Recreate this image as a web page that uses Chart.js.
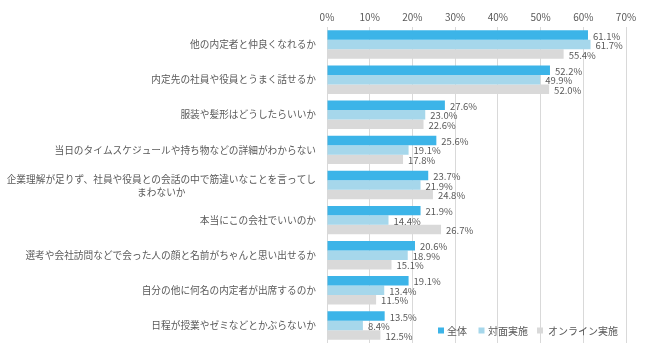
<!DOCTYPE html>
<html><head><meta charset="utf-8">
<script src="https://cdn.jsdelivr.net/npm/chart.js@4/dist/chart.umd.min.js"></script>
<style>html,body{margin:0;padding:0;background:#fff}#wrap{width:650px;height:356px;position:relative}</style>
</head><body><div id="wrap"><canvas id="c"></canvas></div>
<script>
const categories = [
  ["他の内定者と仲良くなれるか"],
  ["内定先の社員や役員とうまく話せるか"],
  ["服装や髪形はどうしたらいいか"],
  ["当日のタイムスケジュールや持ち物などの詳細がわからない"],
  ["企業理解が足りず、社員や役員との会話の中で筋違いなことを言ってし", "まわないか"],
  ["本当にこの会社でいいのか"],
  ["選考や会社訪問などで会った人の顔と名前がちゃんと思い出せるか"],
  ["自分の他に何名の内定者が出席するのか"],
  ["日程が授業やゼミなどとかぶらないか"]
];
const seriesNames = ["全体", "対面実施", "オンライン実施"];
const zentai = [61.1, 52.2, 27.6, 25.6, 23.7, 21.9, 20.6, 19.1, 13.5];
const taimen = [61.7, 49.9, 23.0, 19.1, 21.9, 14.4, 18.9, 13.4, 8.4];
const online = [55.4, 52.0, 22.6, 17.8, 24.8, 26.7, 15.1, 11.5, 12.5];
const xTicks = [0, 10, 20, 30, 40, 50, 60, 70];

const colors = ["#3cb4e8", "#a6d7eb", "#d9d9d9"];
const FONT = "'Noto Sans CJK JP', 'Noto Sans', sans-serif";
const TXT = "#595959";

const labelPlugin = {
  id: 'custom',
  afterDraw(chart) {
    const ctx = chart.ctx;
    const y = chart.scales.y;
    ctx.save();
    ctx.fillStyle = TXT;
    ctx.font = "9.7px " + FONT;
    ctx.textBaseline = 'middle';
    categories.forEach((lines, i) => {
      const cy = y.getPixelForTick(i);
      if (lines.length === 1) {
        ctx.textAlign = 'right';
        ctx.fillText(lines[0], 316, cy);
      } else {
        const w = ctx.measureText(lines[0]).width;
        ctx.textAlign = 'right';
        ctx.fillText(lines[0], 316, cy - 5.5);
        ctx.textAlign = 'center';
        ctx.fillText(lines[1], 316 - w / 2, cy + 7.5);
      }
    });
    // data labels
    ctx.font = "9.5px " + FONT;
    ctx.textAlign = 'left';
    chart.data.datasets.forEach((ds, di) => {
      chart.getDatasetMeta(di).data.forEach((bar, i) => {
        ctx.fillText(ds.data[i].toFixed(1) + '%', bar.x + 5, bar.y + 1);
      });
    });
    // legend
    const items = [[441, 447], [481.5, 488], [540, 548]];
    ctx.font = "10px " + FONT;
    seriesNames.forEach((n, i) => {
      ctx.fillStyle = colors[i];
      ctx.fillRect(items[i][0] - 3, 327.5, 6, 6);
      ctx.fillStyle = TXT;
      ctx.fillText(n, items[i][1], 331);
    });
    ctx.restore();
  }
};

new Chart(document.getElementById('c'), {
  type: 'bar',
  data: {
    labels: categories.map(c => c.join('')),
    datasets: [
      { label: seriesNames[0], data: zentai, backgroundColor: colors[0] },
      { label: seriesNames[1], data: taimen, backgroundColor: colors[1] },
      { label: seriesNames[2], data: online, backgroundColor: colors[2] }
    ]
  },
  options: {
    indexAxis: 'y',
    responsive: true,
    maintainAspectRatio: false,
    animation: false,
    datasets: { bar: { categoryPercentage: 0.81, barPercentage: 1.0 } },
    layout: { padding: { left: 0, right: 24, top: 7, bottom: 13 } },
    plugins: { legend: { display: false }, tooltip: { enabled: false } },
    scales: {
      x: {
        position: 'top', min: 0, max: 70,
        afterBuildTicks: s => { s.ticks = xTicks.map(v => ({ value: v })); },
        ticks: { callback: v => v + '%', color: TXT, font: { family: FONT, size: 10 }, padding: 4 },
        grid: { color: '#d9d9d9', drawTicks: false, lineWidth: 1 },
        border: { display: false }
      },
      y: {
        ticks: { display: false },
        grid: { display: false },
        border: { display: false },
        afterFit: s => { s.width = 327; }
      }
    }
  },
  plugins: [labelPlugin]
});
</script></body></html>
